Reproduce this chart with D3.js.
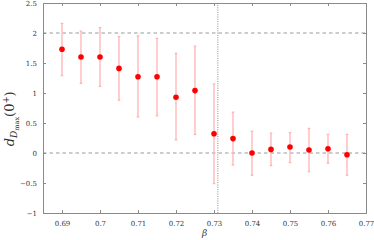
<!DOCTYPE html>
<html>
<head>
<meta charset="utf-8">
<script src="https://cdn.jsdelivr.net/npm/d3@7"></script>
<style>
  body { margin: 0; background: #fff; }
  text { font-family: "DejaVu Serif", "Liberation Serif", serif; }
</style>
</head>
<body>
<svg id="chart" width="374" height="240"></svg>
<script>
var betas = [0.69, 0.695, 0.70, 0.705, 0.71, 0.715, 0.72, 0.725, 0.73, 0.735, 0.74, 0.745, 0.75, 0.755, 0.76, 0.765];
var dVals = [1.73, 1.60, 1.60, 1.41, 1.27, 1.27, 0.93, 1.04, 0.32, 0.24, 0.00, 0.06, 0.10, 0.05, 0.07, -0.03];
var errHi = [2.16, 2.03, 2.09, 1.94, 1.95, 1.91, 1.66, 1.78, 1.15, 0.68, 0.36, 0.33, 0.34, 0.41, 0.31, 0.31];
var errLo = [1.29, 1.16, 1.11, 0.88, 0.60, 0.62, 0.22, 0.31, -0.51, -0.20, -0.37, -0.21, -0.16, -0.31, -0.17, -0.37];
var xTicks = [0.69, 0.70, 0.71, 0.72, 0.73, 0.74, 0.75, 0.76, 0.77];
var yTicks = [-1, -0.5, 0, 0.5, 1, 1.5, 2, 2.5];
var hLines = [0, 2];
var betaC = 0.731;

var margin = {top: 3, right: 8, bottom: 27, left: 43};
var width = 374, height = 240;
var svg = d3.select("#chart");

var xs = d3.scaleLinear().domain([0.685, 0.77]).range([margin.left, width - margin.right]);
var ys = d3.scaleLinear().domain([-1, 2.5]).range([height - margin.bottom, margin.top]);

var axisColor = "#8a8a8a";
var fmt = function (d) { return d < 0 ? "\u2212" + Math.abs(d) : String(d); };

// reference lines
svg.append("g").selectAll("line").data(hLines).enter().append("line")
  .attr("x1", xs.range()[0]).attr("x2", xs.range()[1])
  .attr("y1", function (d) { return ys(d); }).attr("y2", function (d) { return ys(d); })
  .attr("stroke", "#999").attr("stroke-width", 1.1).attr("stroke-dasharray", "3.5,3");

svg.append("line")
  .attr("x1", xs(betaC)).attr("x2", xs(betaC))
  .attr("y1", ys.range()[0]).attr("y2", ys.range()[1])
  .attr("stroke", "#999").attr("stroke-width", 1.1).attr("stroke-dasharray", "1,1.3");

// axes (ticks inward, mirrored)
function styleAxis(g) {
  g.select(".domain").attr("stroke", axisColor);
  g.selectAll(".tick line").attr("stroke", axisColor);
  g.selectAll(".tick text").attr("fill", "#333").style("font-size", "7px");
}
svg.append("g").attr("transform", "translate(0," + ys.range()[0] + ")")
  .call(d3.axisBottom(xs).tickValues(xTicks).tickSize(-3).tickPadding(8).tickFormat(function (d) { return String(+d.toFixed(2)); }))
  .call(styleAxis);
svg.append("g").attr("transform", "translate(0," + ys.range()[1] + ")")
  .call(d3.axisTop(xs).tickValues(xTicks).tickSize(-3).tickFormat(""))
  .call(styleAxis);
svg.append("g").attr("transform", "translate(" + xs.range()[0] + ",0)")
  .call(d3.axisLeft(ys).tickValues(yTicks).tickSize(-3).tickPadding(6).tickFormat(fmt))
  .call(styleAxis);
svg.append("g").attr("transform", "translate(" + xs.range()[1] + ",0)")
  .call(d3.axisRight(ys).tickValues(yTicks).tickSize(-3).tickFormat(""))
  .call(styleAxis);

// error bars
var eb = svg.append("g").attr("stroke", "#ffb3b3").attr("stroke-width", 1.3);
betas.forEach(function (b, i) {
  eb.append("line").attr("x1", xs(b)).attr("x2", xs(b)).attr("y1", ys(errLo[i])).attr("y2", ys(errHi[i]));
  eb.append("line").attr("x1", xs(b) - 1.3).attr("x2", xs(b) + 1.3).attr("y1", ys(errLo[i])).attr("y2", ys(errLo[i]));
  eb.append("line").attr("x1", xs(b) - 1.3).attr("x2", xs(b) + 1.3).attr("y1", ys(errHi[i])).attr("y2", ys(errHi[i]));
});

// points
svg.append("g").selectAll("circle").data(betas).enter().append("circle")
  .attr("cx", function (d) { return xs(d); })
  .attr("cy", function (d, i) { return ys(dVals[i]); })
  .attr("r", 2.8)
  .attr("fill", "#f00");

// axis labels
svg.append("text")
  .attr("x", xs(0.7275)).attr("y", 236)
  .attr("text-anchor", "middle")
  .style("font-size", "9px").style("font-style", "italic").attr("fill", "#333")
  .text("\u03b2");

var yl = svg.append("text")
  .attr("transform", "translate(14," + ys(0.57) + ") rotate(-90)")
  .attr("text-anchor", "middle").attr("fill", "#333")
  .style("font-size", "13px");
yl.append("tspan").style("font-style", "italic").text("d");
yl.append("tspan").style("font-style", "italic").style("font-size", "9px").attr("dy", 3).text("D");
yl.append("tspan").style("font-size", "6.5px").attr("dy", 2).text("max");
yl.append("tspan").attr("dy", -5).text("(0");
yl.append("tspan").style("font-size", "8.5px").attr("dy", -5).text("+");
yl.append("tspan").attr("dy", 5).text(")");
</script>
</body>
</html>
